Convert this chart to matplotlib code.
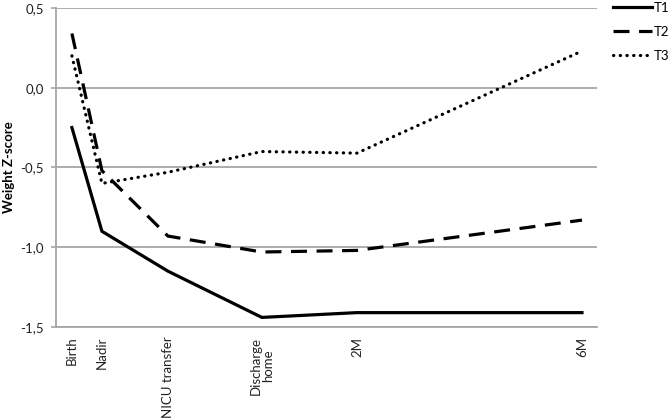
import matplotlib.pyplot as plt

# time points (x positions, arbitrary units)
labels = ['Birth', 'Nadir', 'NICU transfer', 'Discharge\nhome', '2M', '6M']
xpos = [0, 1.0, 3.2, 6.33, 9.5, 17.0]

t1 = [-0.25, -0.90, -1.15, -1.44, -1.41, -1.41]
t2 = [0.34, -0.52, -0.93, -1.03, -1.02, -0.83]
t3 = [0.20, -0.60, -0.53, -0.40, -0.41, 0.23]

plt.rcParams['font.family'] = ['Lato', 'DejaVu Sans']

fig = plt.figure(figsize=(6.7, 4.19), dpi=100)
ax = fig.add_axes([0.0836, 0.2196, 0.8074, 0.7614])

ax.plot(xpos, t1, color='black', lw=2.3, solid_joinstyle='miter', label='T1')
ax.plot(xpos, t2, color='black', lw=2.3, dashes=(5, 3), label='T2')
ax.plot(xpos, t3, color='black', lw=2.3, dashes=(0.1, 2.0), dash_capstyle='round', label='T3')

ax.set_xlim(-0.53, 17.5)
ax.set_ylim(-1.5, 0.5)
ax.set_yticks([-1.5, -1.0, -0.5, 0.0, 0.5])
ax.set_yticklabels(['-1,5', '-1,0', '-0,5', '0,0', '0,5'], fontsize=9.5, color='#222222')
ax.set_xticks(xpos)
ax.set_xticklabels(labels, rotation=90, fontsize=9.5, color='#222222', ha='center', va='top',
                   multialignment='center', linespacing=1.0)
ax.tick_params(axis='x', length=0, pad=7)
ax.tick_params(axis='y', length=3.6, width=1.2, color='#a6a6a6', pad=5)
ax.set_ylabel('Weight Z-score', fontsize=9.5, fontweight='bold', labelpad=4)

ax.grid(axis='y', color='#a6a6a6', lw=1.3)
ax.set_axisbelow(True)
for s in ['top', 'right']:
    ax.spines[s].set_visible(False)
ax.spines['left'].set_color('#a6a6a6')
ax.spines['bottom'].set_color('#a6a6a6')
ax.spines['left'].set_linewidth(1.3)
ax.spines['bottom'].set_linewidth(1.3)

ax.legend(loc='upper left', bbox_to_anchor=(1.02, 1.035), frameon=False, fontsize=9.5,
          handlelength=2.95, handletextpad=0.1, labelspacing=0.9, borderaxespad=0)

fig.savefig('out.png', dpi=100)
